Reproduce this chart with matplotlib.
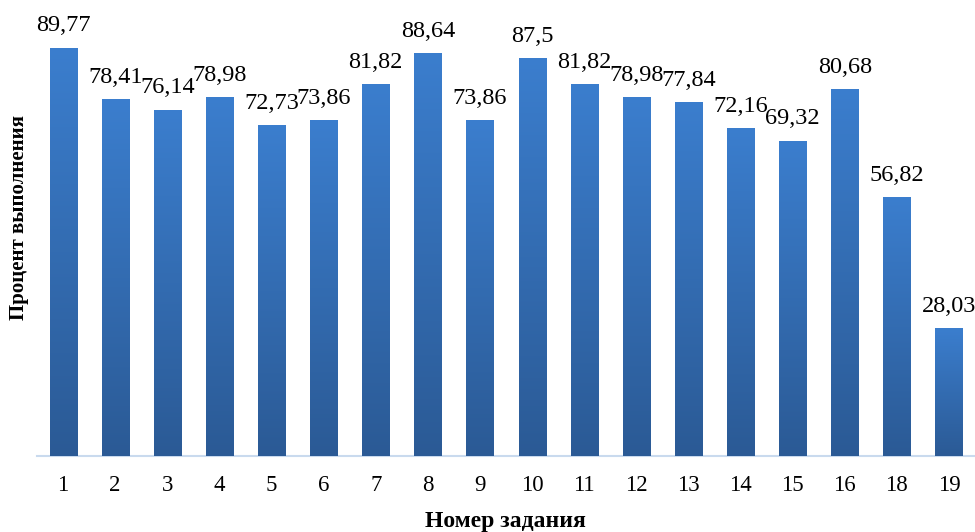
import matplotlib
matplotlib.use("Agg")
import matplotlib.pyplot as plt
import numpy as np
from matplotlib.colors import LinearSegmentedColormap

plt.rcParams['font.family'] = ['Liberation Serif', 'DejaVu Serif']

categories = ['1', '2', '3', '4', '5', '6', '7', '8', '9', '10', '11', '12', '13', '14', '15', '16', '18', '19']
values = [89.77, 78.41, 76.14, 78.98, 72.73, 73.86, 81.82, 88.64, 73.86, 87.5,
          81.82, 78.98, 77.84, 72.16, 69.32, 80.68, 56.82, 28.03]
labels = ['89,77', '78,41', '76,14', '78,98', '72,73', '73,86', '81,82', '88,64', '73,86', '87,5',
          '81,82', '78,98', '77,84', '72,16', '69,32', '80,68', '56,82', '28,03']

fig = plt.figure(figsize=(9.75, 5.32), dpi=100)
ax = fig.add_axes([37/975, 76/532, 938/975, 455/532])

x = np.arange(len(categories))
bars = ax.bar(x, values, width=0.52, color='#3470BA', zorder=2)

cmap = LinearSegmentedColormap.from_list('g', ['#2B5A95', '#3B7ECE'])
grad = np.linspace(0, 1, 256).reshape(-1, 1)
for b in bars:
    x0, w, h = b.get_x(), b.get_width(), b.get_height()
    im = ax.imshow(grad, cmap=cmap, origin='lower', aspect='auto',
                   extent=[x0, x0 + w, 0, h], zorder=3)
    im.set_clip_path(b)

for xi, v, lab in zip(x, values, labels):
    ax.annotate(lab, (xi, v), xytext=(0, 8), textcoords='offset points',
                ha='center', va='bottom', fontsize=17.5, color='black')

ax.set_xlim(-0.5, len(categories) - 0.5)
ax.set_ylim(0, 100)
ax.set_xticks(x)
ax.set_xticklabels(categories, fontsize=16.5)
ax.set_yticks([])
for s in ['top', 'right', 'left']:
    ax.spines[s].set_visible(False)
ax.spines['bottom'].set_color('#C9DAEE')
ax.spines['bottom'].set_linewidth(1.5)
ax.tick_params(axis='x', length=0, pad=14)

fig.text(19/975, 1 - 217/532, 'Процент выполнения', rotation=90, ha='center', va='center',
         fontsize=15, fontweight='bold')
fig.text(505/975, 1 - 521/532, 'Номер задания', ha='center', va='center',
         fontsize=17, fontweight='bold')

fig.savefig('out.png', dpi=100)
